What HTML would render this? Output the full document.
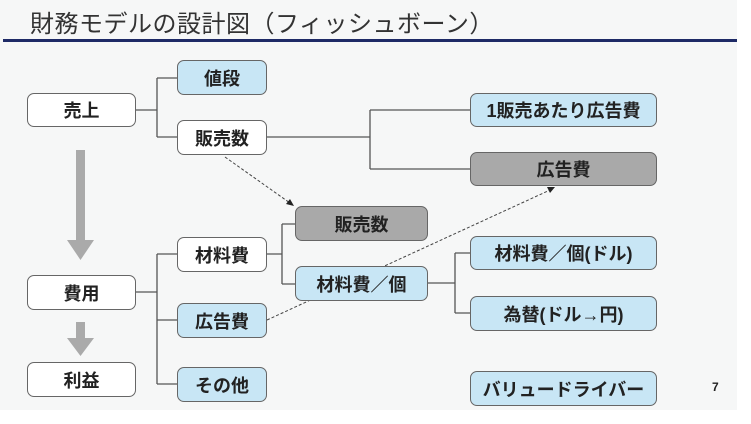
<!DOCTYPE html>
<html><head><meta charset="utf-8"><style>
body{margin:0;width:751px;height:424px;background:#fff;overflow:hidden;font-family:"Liberation Sans","Noto Sans CJK JP",sans-serif}
.slide{position:absolute;left:0;top:0;width:737px;height:410px;background:#f6f7f7}
.t{position:absolute;left:30px;top:4px;font-size:24px;color:#333;letter-spacing:0.5px}
.b{position:absolute;box-sizing:border-box;border:1.5px solid #666;border-radius:7px;display:flex;align-items:center;justify-content:center;font-size:18px;font-weight:bold;color:#222;background:#fff}
.bl{background:#c8e6f5}.g{background:#a9a9a9}
</style></head><body>
<div class="slide"></div>
<div class="t">財務モデルの設計図（フィッシュボーン）</div>
<div style="position:absolute;left:3px;top:39px;width:734px;height:3px;background:#1e2a66"></div>
<svg width="751" height="424" style="position:absolute;left:0;top:0">
<g stroke="#555" stroke-width="1.3" fill="none">
<path d="M136 110H157M157 78V137M157 78H177M157 137H177"/>
<path d="M267 137H370M370 110V169M370 110H470M370 169H470"/>
<path d="M267 254H282M282 224V284M282 224H295M282 284H295"/>
<path d="M136 292H157M157 254V384M157 254H177M157 320H177M157 384H177"/>
<path d="M428 283H455M455 253V313M455 253H470M455 313H470"/>
</g>
<g stroke="#444" stroke-width="1" stroke-dasharray="3,2" fill="none">
<path d="M225 157L290 203"/><path d="M267 320L550 190"/>
</g>
<path d="M294 206L286 204L290 199Z" fill="#222"/>
<path d="M555 187L547 187L550 193Z" fill="#222"/>
<g fill="#aaa">
<rect x="76" y="150" width="9" height="92"/><path d="M67 240H94L80.5 260Z"/>
<rect x="76" y="322" width="9" height="18"/><path d="M67 338H94L80.5 356Z"/>
</g>
</svg>
<div class="b" style="left:27px;top:93px;width:109px;height:34px">売上</div>
<div class="b bl" style="left:177px;top:60px;width:90px;height:35px">値段</div>
<div class="b" style="left:177px;top:120px;width:90px;height:35px">販売数</div>
<div class="b bl" style="left:470px;top:93px;width:187px;height:34px">1販売あたり広告費</div>
<div class="b g" style="left:470px;top:152px;width:187px;height:34px">広告費</div>
<div class="b g" style="left:295px;top:206px;width:133px;height:35px">販売数</div>
<div class="b" style="left:177px;top:237px;width:90px;height:35px">材料費</div>
<div class="b bl" style="left:295px;top:266px;width:133px;height:35px">材料費／個</div>
<div class="b bl" style="left:470px;top:236px;width:187px;height:34px">材料費／個(ドル)</div>
<div class="b bl" style="left:470px;top:296px;width:187px;height:35px">為替(ドル→円)</div>
<div class="b" style="left:27px;top:275px;width:109px;height:35px">費用</div>
<div class="b bl" style="left:177px;top:303px;width:90px;height:35px">広告費</div>
<div class="b" style="left:27px;top:362px;width:109px;height:35px">利益</div>
<div class="b bl" style="left:177px;top:367px;width:90px;height:35px">その他</div>
<div class="b bl" style="left:470px;top:371px;width:187px;height:35px">バリュードライバー</div>
<div style="position:absolute;left:712px;top:380px;font-size:12px;font-weight:bold;color:#222">7</div>
</body></html>
